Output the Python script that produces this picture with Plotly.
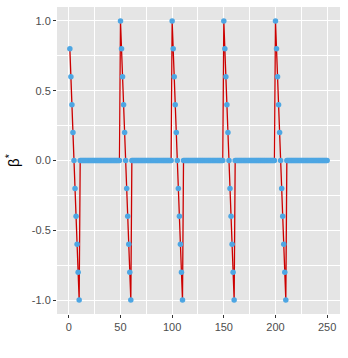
import plotly.graph_objects as go

# one spike: values at the first eleven steps of each period of 50
spike = [0.8, 0.6, 0.4, 0.2, 0.0, -0.2, -0.4, -0.6, -0.8, -1.0]
spike_full = [1.0, 0.8, 0.6, 0.4, 0.2, 0.0, -0.2, -0.4, -0.6, -0.8, -1.0]
spike_starts = [50, 100, 150, 200]

x_vals = list(range(1, 251))
beta = [0.0] * 250
for i, v in enumerate(spike):
    beta[i] = v
for s in spike_starts:
    for i, v in enumerate(spike_full):
        beta[s - 1 + i] = v

x_ticks = [0, 50, 100, 150, 200, 250]
y_ticks = [-1.0, -0.5, 0.0, 0.5, 1.0]
y_labels = ["-1.0", "-0.5", "0.0", "0.5", "1.0"]

fig = go.Figure()
fig.add_trace(go.Scatter(x=x_vals, y=beta, mode="lines",
                         line=dict(color="#CC0000", width=1.3),
                         hoverinfo="skip"))
fig.add_trace(go.Scatter(x=x_vals, y=beta, mode="markers",
                         marker=dict(color="#4DA6E3", size=5.5, line=dict(width=0))))

fig.update_layout(
    width=348, height=358,
    margin=dict(l=57, r=8, t=7, b=44),
    plot_bgcolor="#E5E5E5", paper_bgcolor="white",
    showlegend=False,
    font=dict(family="Liberation Sans, Arial, sans-serif", size=11, color="#4D4D4D"),
)
fig.update_xaxes(
    range=[-11.45, 262.45], tickvals=x_ticks, showgrid=True, automargin=False,
    gridcolor="white", gridwidth=1.1, zeroline=False,
    ticks="outside", ticklen=3, tickcolor="#333333", tickwidth=1,
    minor=dict(tickvals=[25, 75, 125, 175, 225], showgrid=True,
               gridcolor="white", gridwidth=0.5, ticks=""),
    tickfont=dict(size=11, color="#4D4D4D"),
)
fig.update_yaxes(
    range=[-1.1, 1.1], tickvals=y_ticks, ticktext=y_labels, showgrid=True, automargin=False,
    gridcolor="white", gridwidth=1.1, zeroline=False,
    ticks="outside", ticklen=3, tickcolor="#333333", tickwidth=1,
    minor=dict(tickvals=[-0.75, -0.25, 0.25, 0.75], showgrid=True,
               gridcolor="white", gridwidth=0.5, ticks=""),
    tickfont=dict(size=11, color="#4D4D4D"),
    title=dict(text="β<sup>*</sup>", font=dict(size=15, color="black"), standoff=8),
)

# drop the default page margin so the figure sits at the window's corner
fig.write_html("out.html", config={"displayModeBar": False},
               post_script="document.body.style.margin='0';")
